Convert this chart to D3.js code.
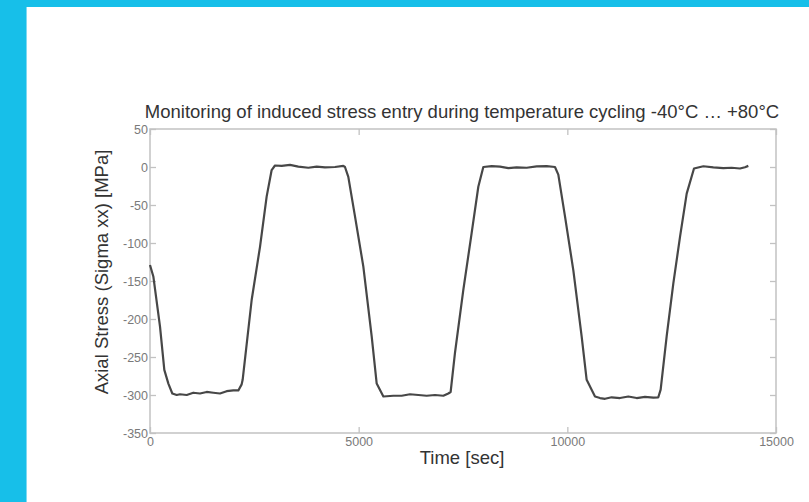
<!DOCTYPE html>
<html>
<head>
<meta charset="utf-8">
<script src="https://cdn.jsdelivr.net/npm/d3@7"></script>
<style>
  body { margin: 0; background: #fff; }
  svg { display: block; }
</style>
</head>
<body>
<div id="chart"></div>
<script>
// time [sec] and axial stress [MPa]
var timeSec = [
  0, 80, 240, 343, 440, 535,
  640, 719, 879, 1038, 1198, 1358, 1518, 1677, 1837, 1997, 2117,
  2196, 2220, 2436, 2636, 2795, 2915, 2995,
  3156, 3355, 3554, 3794, 3994, 4193, 4433, 4632,
  4672, 4752, 4912, 5112, 5312, 5432, 5592,
  5831, 6030, 6230, 6430, 6630, 6829, 7029, 7148, 7204,
  7307, 7507, 7707, 7867, 7987,
  8187, 8387, 8587, 8786, 9026, 9266, 9505, 9704,
  9784, 9944, 10144, 10343, 10463, 10663,
  10783, 10903, 11062, 11262, 11462, 11662, 11861, 12061, 12180, 12236,
  12380, 12540, 12700, 12860, 13035,
  13259, 13499, 13738, 13938, 14137, 14257, 14337
];
var stressMPa = [
  -129, -144, -210, -267, -285, -298,
  -300, -299, -300, -297, -298, -296, -297, -298, -295, -294, -294,
  -286, -280, -175, -105, -39, -4, 2,
  1.5, 2.7, 0.5, -1, 0.5, -0.5, 0, 1.5,
  0, -13, -65, -131, -223, -285, -302,
  -301, -301, -299, -300, -301, -300, -301, -298, -296,
  -245, -162, -87, -26, 0,
  1.2, 0.5, -1.5, -0.4, -1, 0.8, 1.2, 0,
  -10, -65, -136, -223, -280, -302,
  -304, -305, -303, -304, -302, -304, -302.5, -303.5, -303, -293,
  -223, -153, -92, -35, -2,
  1, -0.5, -1.5, -1, -2, -0.3, 1.5
];
var yTicks = [50, 0, -50, -100, -150, -200, -250, -300, -350];
var xTicks = [0, 5000, 10000, 15000];

var titleText = "Monitoring of induced stress entry during temperature cycling -40°C … +80°C";
var xLabel = "Time [sec]";
var yLabel = "Axial Stress (Sigma xx) [MPa]";

var W = 809, H = 502;
var margin = {top: 129, right: 33, bottom: 69, left: 150},
  width = W - margin.left - margin.right,
  height = H - margin.top - margin.bottom;

var svg = d3.select("#chart").append("svg")
  .attr("width", W)
  .attr("height", H);

// cyan frame on top and left
svg.append("rect").attr("x", 0).attr("y", 0).attr("width", W).attr("height", 7).attr("fill", "#17bfe9");
svg.append("rect").attr("x", 0).attr("y", 0).attr("width", 26).attr("height", H).attr("fill", "#17bfe9");
svg.append("rect").attr("x", 26).attr("y", 7).attr("width", 1).attr("height", H - 7).attr("fill", "#7fd9f2");

var g = svg.append("g")
  .attr("transform", "translate(" + margin.left + "," + margin.top + ")");

var x = d3.scaleLinear().domain([0, 15000]).range([0, width]);
var y = d3.scaleLinear().domain([-350, 50]).range([height, 0]);

var axisColor = "#c2c2c2";
var tickColor = "#7a7a7a";
var font = "'Liberation Sans', Arial, sans-serif";
// plain hyphen for negatives, like the original
var plain = function (d) { return String(d); };

// box
g.append("rect")
  .attr("x", 0).attr("y", 0)
  .attr("width", width).attr("height", height)
  .attr("fill", "none")
  .attr("stroke", axisColor)
  .attr("stroke-width", 1.5);

function styleAxis(sel) {
  sel.select(".domain").remove();
  sel.selectAll(".tick line").attr("stroke", axisColor).attr("stroke-width", 1.3);
  sel.selectAll(".tick text")
    .style("font-family", font)
    .style("font-size", "12.5px")
    .attr("fill", tickColor);
}

// left axis, ticks inward
g.append("g")
  .call(d3.axisLeft(y).tickValues(yTicks).tickSizeInner(-6).tickSizeOuter(0).tickFormat(plain))
  .call(styleAxis)
  .selectAll(".tick text").attr("x", -2);

// right axis ticks (no labels)
g.append("g")
  .attr("transform", "translate(" + width + ",0)")
  .call(d3.axisRight(y).tickValues(yTicks).tickSizeInner(-6).tickSizeOuter(0).tickFormat(""))
  .call(styleAxis);

// bottom axis
g.append("g")
  .attr("transform", "translate(0," + height + ")")
  .call(d3.axisBottom(x).tickValues(xTicks).tickSizeInner(-6).tickSizeOuter(0).tickFormat(plain))
  .call(styleAxis)
  .selectAll(".tick text").attr("y", 4);

// top axis ticks
g.append("g")
  .call(d3.axisTop(x).tickValues(xTicks).tickSizeInner(-6).tickSizeOuter(0).tickFormat(""))
  .call(styleAxis);

// stress curve
var points = timeSec.map(function (t, i) { return [t, stressMPa[i]]; });
g.append("path")
  .datum(points)
  .attr("fill", "none")
  .attr("stroke", "#474747")
  .attr("stroke-width", 2.2)
  .attr("stroke-linejoin", "round")
  .attr("d", d3.line()
    .x(function (d) { return x(d[0]); })
    .y(function (d) { return y(d[1]); })
  );

// title
svg.append("text")
  .attr("x", margin.left + width / 2 - 1)
  .attr("y", 118)
  .attr("text-anchor", "middle")
  .style("font-family", font)
  .style("font-size", "18.5px")
  .attr("fill", "#333")
  .text(titleText);

// x label
svg.append("text")
  .attr("x", margin.left + width / 2 - 1)
  .attr("y", 464)
  .attr("text-anchor", "middle")
  .style("font-family", font)
  .style("font-size", "18.5px")
  .attr("fill", "#333")
  .text(xLabel);

// y label
svg.append("text")
  .attr("transform", "translate(108,272) rotate(-90)")
  .attr("text-anchor", "middle")
  .style("font-family", font)
  .style("font-size", "18.5px")
  .attr("fill", "#333")
  .text(yLabel);
</script>
</body>
</html>
